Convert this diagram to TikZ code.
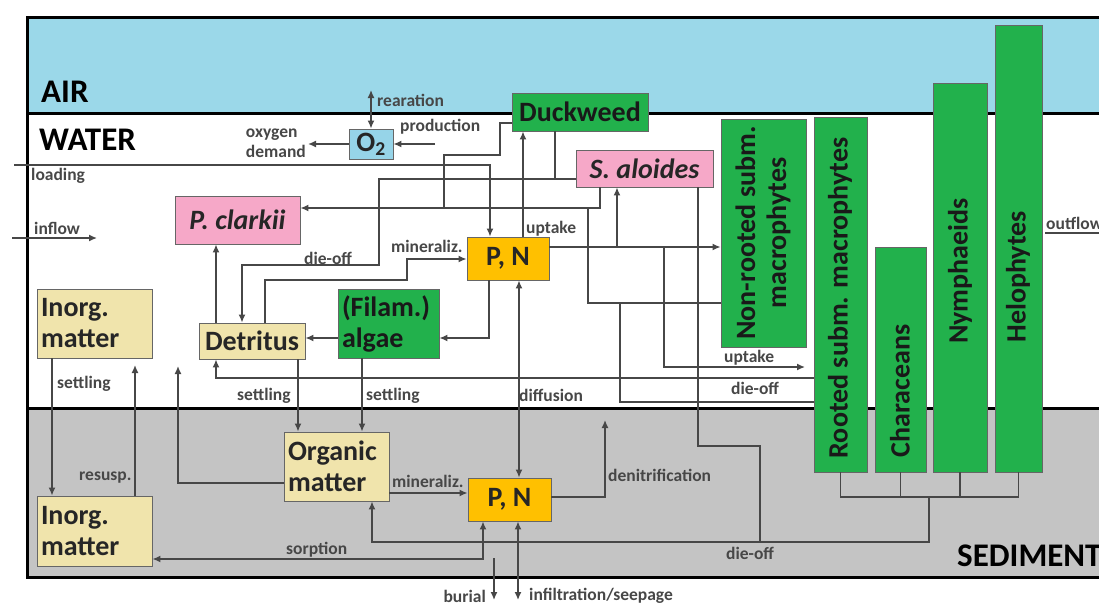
\documentclass[tikz,border=0pt]{standalone}
\usepackage{fontspec}
\setmainfont{Carlito}
\usetikzlibrary{arrows.meta}
\newcommand{\boxfont}{\fontsize{28}{31}\selectfont\bfseries}
\newcommand{\zonefont}{\fontsize{33}{36}\selectfont\bfseries}
\newcommand{\flowfont}{\fontsize{17.5}{20}\selectfont\bfseries}
\definecolor{airblue}{RGB}{155,216,233}
\definecolor{sedgray}{RGB}{196,196,196}
\definecolor{plantgreen}{RGB}{34,177,76}
\definecolor{crayfishpink}{RGB}{246,168,200}
\definecolor{mattertan}{RGB}{240,228,172}
\definecolor{nutrientgold}{RGB}{255,192,0}
\definecolor{oxyblue}{RGB}{150,212,232}

\begin{document}
\begin{tikzpicture}[x=1pt, y=-1pt,
    every node/.style={inner sep=0pt},
    box/.style={draw=black!60, line width=0.9pt, font=\boxfont, text=black!85},
    boxtan/.style={box, fill=mattertan},
    boxgreen/.style={box, fill=plantgreen, text=black!90},
    boxpink/.style={box, fill=crayfishpink, font=\boxfont\itshape},
    boxgold/.style={box, fill=nutrientgold},
    boxleft/.style={align=left, inner xsep=4pt},
    planttext/.style={font=\boxfont, text=black!90, rotate=90, align=center},
    lbl/.style={font=\flowfont, text=black!72},
    link/.style={draw=black!72, line width=1.4pt},
    flow/.style={link, -{Latex[length=8pt,width=7pt]}},
    flowboth/.style={link, {Latex[length=8pt,width=7pt]}-{Latex[length=8pt,width=7pt]}}]
  \useasboundingbox (0,0) rectangle (1099,605);
  \clip (0,0) rectangle (1099,605);
  % The frame:
  \fill[airblue] (27,17) rectangle (1130,113);
  \fill[sedgray] (27,408) rectangle (1130,577);
  \draw[black, line width=3pt] (27,17) rectangle (1130,577);
  \draw[black, line width=3pt] (27,113) -- (1130,113);
  \draw[black, line width=3pt] (27,408) -- (1130,408);
  \node[font=\zonefont, anchor=west] (air) at (41,92) {AIR};
  \node[font=\zonefont, anchor=west] (water) at (39,140) {WATER};
  \node[font=\zonefont, anchor=west] (sediment) at (957,556) {SEDIMENT};
  % Compartments:
  \node[box, fill=oxyblue, minimum width=44, minimum height=30] (O2) at (371,144) {O\textsubscript{2}};
  \node[boxgreen, minimum width=136, minimum height=38] (Duck) at (580,112) {Duckweed};
  \node[boxpink, minimum width=137, minimum height=37] (Sal) at (644.5,168.5) {S. aloides};
  \node[boxpink, minimum width=125, minimum height=48] (Pcl) at (237.5,220) {P. clarkii};
  \node[boxgold, minimum width=82, minimum height=43] (PNw) at (508,258.5) {P, N};
  \node[boxtan, boxleft, text width=107, minimum height=69] (Inw) at (94.5,323.5) {Inorg.\\matter};
  \node[boxtan, minimum width=106, minimum height=36] (Det) at (252,341) {Detritus};
  \node[boxgreen, boxleft, text width=93, minimum height=69] (Alg) at (388.5,323.5) {(Filam.)\\algae};
  \node[boxtan, boxleft, text width=97, minimum height=69] (Org) at (336.5,466.5) {Organic\\matter};
  \node[boxgold, minimum width=83, minimum height=43] (PNs) at (509.5,499.5) {P, N};
  \node[boxtan, boxleft, text width=107, minimum height=70] (Ins) at (94.5,531) {Inorg.\\matter};
  % Macrophytes:
  \node[boxgreen, minimum width=85, minimum height=228] (Nonr) at (763.5,233) {};
  \node[boxgreen, minimum width=53, minimum height=355] (Root) at (840.5,294.5) {};
  \node[boxgreen, minimum width=51, minimum height=225] (Cha) at (900.5,359.5) {};
  \node[boxgreen, minimum width=54, minimum height=389] (Nym) at (960,277.5) {};
  \node[boxgreen, minimum width=47, minimum height=447] (Hel) at (1018.5,248.5) {};
  \node[planttext] (nonrtext) at (763,233) {Non-rooted subm.\\macrophytes};
  \node[planttext] (roottext) at (840,298) {Rooted subm. macrophytes};
  \node[planttext] (chatext) at (900,391) {Characeans};
  \node[planttext] (nymtext) at (960,271) {Nymphaeids};
  \node[planttext] (heltext) at (1018,277) {Helophytes};
  % Bends of the fluxes:
  \coordinate (loadin) at (14,165);   \coordinate (loadx) at (490,165);
  \coordinate (inflowin) at (12,238); \coordinate (inflowend) at (97,238);
  \coordinate (outfl) at (1045,233);  \coordinate (outend) at (1110,233);
  \coordinate (rear) at (371,90);
  \coordinate (odem) at (308,144);    \coordinate (oprod) at (435,144);
  \coordinate (dk1) at (500,123);     \coordinate (dk2) at (444,155);
  \coordinate (eat) at (600,208);
  \coordinate (nr) at (588,303);      \coordinate (ro) at (620,402);
  \coordinate (dd) at (555,179);
  \coordinate (die1) at (379,179);    \coordinate (die2) at (242,265);
  \coordinate (dp) at (216,300);
  \coordinate (mn1) at (265,280);     \coordinate (mn2) at (407,259);
  \coordinate (upd) at (523,200);
  \coordinate (up1) at (617,247);
  \coordinate (up2) at (664,367);     \coordinate (up2end) at (805,367);
  \coordinate (dr) at (216,378);
  \coordinate (pa) at (489,338);
  \coordinate (ds) at (298,400);      \coordinate (as) at (362,400);
  \coordinate (df) at (519,400);      \coordinate (is) at (52,400);
  \coordinate (rs) at (135,365);
  \coordinate (ou) at (178,366);      \coordinate (ou2) at (178,483);
  \coordinate (om) at (400,493);
  \coordinate (dn) at (605,497);      \coordinate (dnend) at (605,420);
  \coordinate (so) at (483,559);
  \coordinate (bu1) at (494,558);     \coordinate (bu2) at (494,600);
  \coordinate (inf) at (518,600);
  \coordinate (pbar) at (929,497);    \coordinate (pd) at (372,542);
  \coordinate (sd1) at (698,446);     \coordinate (sd2) at (760,542);
  % Fluxes in the water:
  \draw[flow] (loadin) -- (loadx) -- (loadx |- PNw.north);
  \draw[flow] (inflowin) -- (inflowend);
  \draw[flow] (outfl) -- (outend);
  \draw[flowboth] (rear) -- (O2.north);
  \draw[flow] (O2.west) -- (odem);
  \draw[flow] (oprod) -- (O2.east);
  \draw[link] (dk1 -| Duck.west) -- (dk1) |- (dk2) -- (dk2 |- eat);
  \draw[flow] (eat |- Sal.south) -- (eat) -- (eat -| Pcl.east);
  \draw[link] (nr -| Nonr.west) -- (nr) -- (nr |- eat);
  \draw[link] (ro -| Root.west) -- (ro) -- (ro |- nr);
  \draw[link] (dd |- Duck.south) -- (dd);
  \draw[flow] (die1 -| Sal.west) -- (die1) |- (die2) -- (die2 |- Det.north);
  \draw[flow] (dp |- Det.north) -- (dp |- Pcl.south);
  \draw[flow] (mn1 |- Det.north) -- (mn1) -| (mn2) -- (mn2 -| PNw.west);
  \draw[flow] (upd |- PNw.north) -- (upd |- Duck.south);
  \draw[flow] (up1 -| PNw.east) -- (up1 -| Nonr.west);
  \draw[flow] (up1) -- (up1 |- Sal.south);
  \draw[flow] (up2 |- up1) -- (up2) -- (up2end);
  \draw[flow] (dr -| Root.west) -- (dr) -- (dr |- Det.south);
  \draw[flow] (pa |- PNw.south) -- (pa) -- (pa -| Alg.east);
  \draw[flow] (pa -| Alg.west) -- (pa -| Det.east);
  % Fluxes across the bottom:
  \draw[flow] (ds |- Det.south) -- (ds |- Org.north);
  \draw[flow] (as |- Alg.south) -- (as |- Org.north);
  \draw[flowboth] (df |- PNw.south) -- (df |- PNs.north);
  \draw[flow] (is |- Inw.south) -- (is |- Ins.north);
  \draw[flow] (rs |- Ins.north) -- (rs);
  \draw[flow] (ou2 -| Org.west) -- (ou2) -- (ou);
  % Fluxes in the sediment:
  \draw[flow] (om -| Org.east) -- (om -| PNs.west);
  \draw[flow] (dn -| PNs.east) -- (dn) -- (dnend);
  \draw[flowboth] (so -| Ins.east) -- (so) -- (so |- PNs.south);
  \draw[flow] (bu1) -- (bu2);
  \draw[flowboth] (inf |- PNs.south) -- (inf);
  \draw[link] (Root.south) |- (pbar) -| (Hel.south);
  \draw[link] (Cha.south) -- (Cha.south |- pbar);
  \draw[link] (Nym.south) -- (Nym.south |- pbar);
  \draw[flow] (pbar) |- (pd) -- (pd |- Org.south);
  \draw[link] (sd1 |- Sal.south) -- (sd1) -| (sd2);
  % Labels:
  \node[lbl, anchor=west] (lrear) at (377,100) {rearation};
  \node[lbl, anchor=west] (lprod) at (400,127) {production};
  \node[lbl, anchor=east, align=left] (ldem) at (306,143) {oxygen\\demand};
  \node[lbl, anchor=west] (lload) at (31,176) {loading};
  \node[lbl, anchor=west] (linfl) at (34,228) {inflow};
  \node[lbl, anchor=west] (loutfl) at (1046,223) {outflow};
  \node[lbl, anchor=west] (lupd) at (526,229) {uptake};
  \node[lbl, anchor=west] (lminw) at (391,246) {mineraliz.};
  \node[lbl, anchor=west] (ldiew) at (304,258) {die-off};
  \node[lbl, anchor=west] (lsetin) at (57,384) {settling};
  \node[lbl, anchor=west] (lsetdet) at (237,396) {settling};
  \node[lbl, anchor=west] (lsetalg) at (366,396) {settling};
  \node[lbl, anchor=west] (ldiff) at (519,395) {diffusion};
  \node[lbl, anchor=west] (luproot) at (724,358) {uptake};
  \node[lbl, anchor=west] (ldieroot) at (731,388) {die-off};
  \node[lbl, anchor=west] (lresusp) at (79,478) {resusp.};
  \node[lbl, anchor=west] (lmins) at (392,481) {mineraliz.};
  \node[lbl, anchor=west] (ldenit) at (608,475) {denitrification};
  \node[lbl, anchor=west] (lsorp) at (286,550) {sorption};
  \node[lbl, anchor=west] (ldies) at (726,553) {die-off};
  \node[lbl, anchor=east] (lburial) at (486,596) {burial};
  \node[lbl, anchor=west] (linfil) at (529,596) {infiltration/seepage};
\end{tikzpicture}
\end{document}
